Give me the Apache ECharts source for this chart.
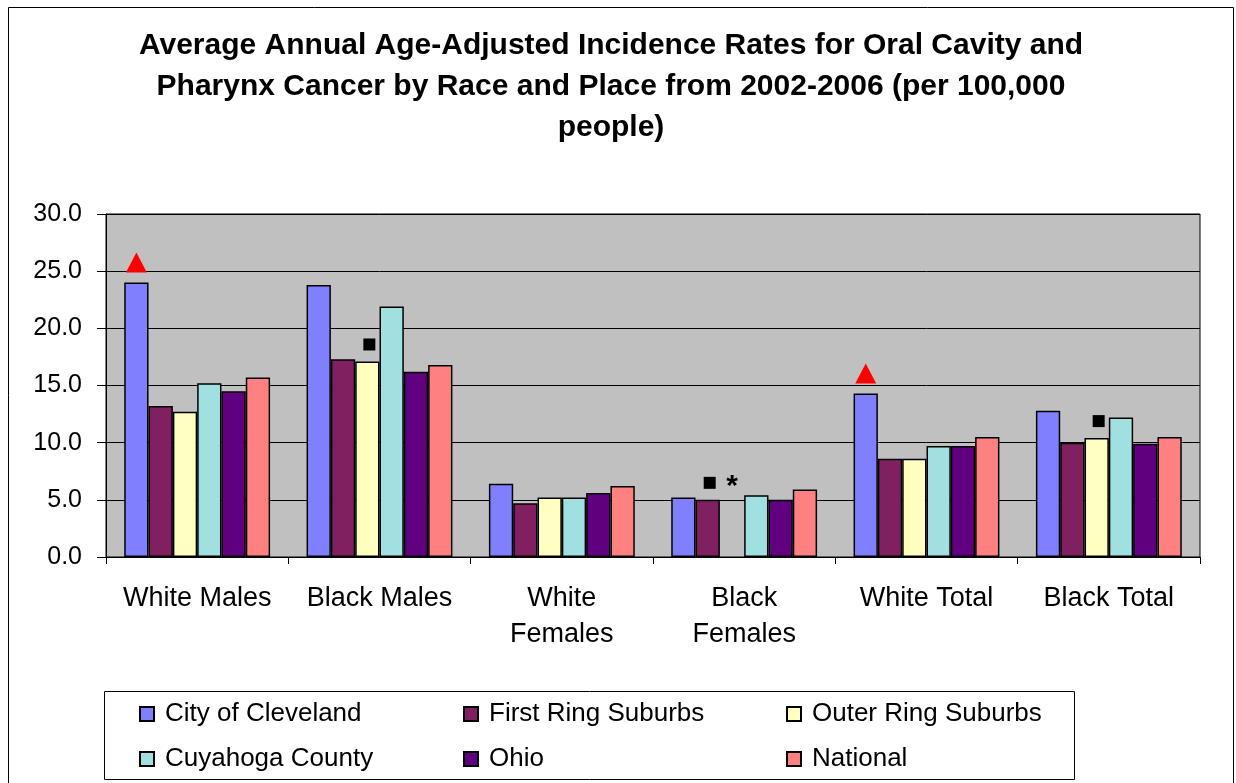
<!DOCTYPE html>
<html>
<head>
<meta charset="utf-8">
<title>Oral Cavity and Pharynx Cancer Incidence</title>
<script src="https://cdn.jsdelivr.net/npm/echarts@6/dist/echarts.min.js"></script>
<style>
  html, body { margin: 0; padding: 0; background: #fff; }
  #chart { width: 1236px; height: 783px; }
</style>
</head>
<body>
<div id="chart"></div>
<script>
// Population groups along the x axis
const categories = ['White Males', 'Black Males', 'White\nFemales', 'Black\nFemales', 'White Total', 'Black Total'];

// Average annual age-adjusted incidence rates per 100,000 people, 2002-2006
const cityOfCleveland   = [24.0, 23.8, 6.4, 5.2, 14.3, 12.8];
const firstRingSuburbs  = [13.2, 17.3, 4.7, 5.0, 8.6, 10.0];
const outerRingSuburbs  = [12.7, 17.1, 5.2, null, 8.6, 10.4];
const cuyahogaCounty    = [15.2, 21.9, 5.2, 5.4, 9.7, 12.2];
const ohio              = [14.5, 16.2, 5.6, 5.0, 9.7, 9.9];
const national          = [15.7, 16.8, 6.2, 5.9, 10.5, 10.5];

const yTicks = [0, 5, 10, 15, 20, 25, 30];

// Significance flags drawn above individual bars: [series, category index]
const triangleFlags = [['City of Cleveland', 0], ['City of Cleveland', 4]];
const squareFlags   = [['Outer Ring Suburbs', 1], ['First Ring Suburbs', 3], ['Outer Ring Suburbs', 5]];
const asteriskFlags = [['Outer Ring Suburbs', 3]];

const FONT = 'Liberation Sans, Arial, sans-serif';

const seriesDefs = [
  { name: 'City of Cleveland',  data: cityOfCleveland,  color: '#8080FF' },
  { name: 'First Ring Suburbs', data: firstRingSuburbs, color: '#802060' },
  { name: 'Outer Ring Suburbs', data: outerRingSuburbs, color: '#FFFFC0' },
  { name: 'Cuyahoga County',    data: cuyahogaCounty,   color: '#A0E0E0' },
  { name: 'Ohio',               data: ohio,             color: '#600080' },
  { name: 'National',           data: national,         color: '#FF8080' }
];

function flagValue(name, idx) {
  const s = seriesDefs.find(d => d.name === name);
  const v = s.data[idx];
  if (v !== null) return v;
  // missing value: sit the flag at the neighbouring bar height
  return firstRingSuburbs[idx];
}

function markPointsFor(name) {
  const pts = [];
  triangleFlags.filter(f => f[0] === name).forEach(f => {
    pts.push({
      coord: [f[1], flagValue(name, f[1])],
      symbol: 'triangle', symbolSize: [21, 20], symbolOffset: [0, -20],
      itemStyle: { color: '#FF0000', borderWidth: 0 }
    });
  });
  squareFlags.filter(f => f[0] === name).forEach(f => {
    pts.push({
      coord: [f[1], flagValue(name, f[1])],
      symbol: 'rect', symbolSize: [12, 12], symbolOffset: [2, -17],
      itemStyle: { color: '#000000', borderWidth: 0 }
    });
  });
  asteriskFlags.filter(f => f[0] === name).forEach(f => {
    pts.push({
      coord: [f[1], flagValue(name, f[1])],
      symbol: 'rect', symbolSize: [1, 1], symbolOffset: [0, -13],
      itemStyle: { color: 'rgba(0,0,0,0)', borderWidth: 0 },
      label: {
        show: true, position: 'inside', formatter: '*',
        fontFamily: FONT, fontSize: 30, fontWeight: 'bold', color: '#000'
      }
    });
  });
  return pts;
}

const series = seriesDefs.map(d => ({
  name: d.name,
  type: 'bar',
  data: d.data,
  barGap: '0%',
  barCategoryGap: '20%',
  itemStyle: { color: d.color, borderColor: '#000', borderWidth: 1.5 },
  emphasis: { disabled: true },
  markPoint: {
    silent: true,
    animation: false,
    label: { show: false },
    data: markPointsFor(d.name)
  }
}));

const legendText = {
  fontFamily: FONT, fontSize: 26, color: '#000', lineHeight: 26, padding: [0, 0, 0, 6]
};
function legendColumn(names, left) {
  return {
    data: names,
    orient: 'vertical',
    left: left,
    top: 701,
    padding: 0,
    itemGap: 19,
    itemWidth: 14,
    itemHeight: 14,
    itemTextGap: 18,
    icon: 'rect',
    selectedMode: false,
    textStyle: legendText
  };
}

const chart = echarts.init(document.getElementById('chart'), null, { renderer: 'canvas' });
chart.setOption({
  animation: false,
  backgroundColor: '#fff',
  title: {
    text: 'Average Annual Age-Adjusted Incidence Rates for Oral Cavity and\nPharynx Cancer by Race and Place from 2002-2006 (per 100,000\npeople)',
    left: 611,
    textAlign: 'center',
    top: 25,
    padding: 0,
    textStyle: {
      fontFamily: FONT, fontSize: 30, fontWeight: 'bold', color: '#000', lineHeight: 41
    }
  },
  grid: {
    left: 106, right: 36, top: 214, bottom: 226,
    show: true, backgroundColor: '#C0C0C0', borderColor: '#000', borderWidth: 1
  },
  legend: [
    legendColumn(['City of Cleveland', 'Cuyahoga County'], 139),
    legendColumn(['First Ring Suburbs', 'Ohio'], 463),
    legendColumn(['Outer Ring Suburbs', 'National'], 786)
  ],
  xAxis: {
    type: 'category',
    data: categories,
    axisLine: { show: true, lineStyle: { color: '#000', width: 1 } },
    axisTick: { show: true, alignWithLabel: false, length: 7, lineStyle: { color: '#000' } },
    axisLabel: {
      fontFamily: FONT, fontSize: 27, color: '#000', margin: 24, lineHeight: 36, interval: 0
    },
    splitLine: { show: false }
  },
  yAxis: {
    type: 'value',
    min: yTicks[0],
    max: yTicks[yTicks.length - 1],
    interval: 5,
    axisLine: { show: true, lineStyle: { color: '#000', width: 1 } },
    axisTick: { show: true, length: 9, lineStyle: { color: '#000' } },
    axisLabel: {
      fontFamily: FONT, fontSize: 25, color: '#000', margin: 24,
      formatter: v => v.toFixed(1)
    },
    splitLine: { show: true, lineStyle: { color: '#000', width: 1 } }
  },
  graphic: [
    {
      type: 'rect', silent: true, z: -1,
      shape: { x: 8.5, y: 7.5, width: 1225, height: 800 },
      style: { fill: 'none', stroke: '#000', lineWidth: 1 }
    },
    {
      type: 'rect', silent: true,
      shape: { x: 104.5, y: 691.5, width: 970, height: 88 },
      style: { fill: 'none', stroke: '#000', lineWidth: 1 }
    }
  ],
  series: series
});
</script>
</body>
</html>
